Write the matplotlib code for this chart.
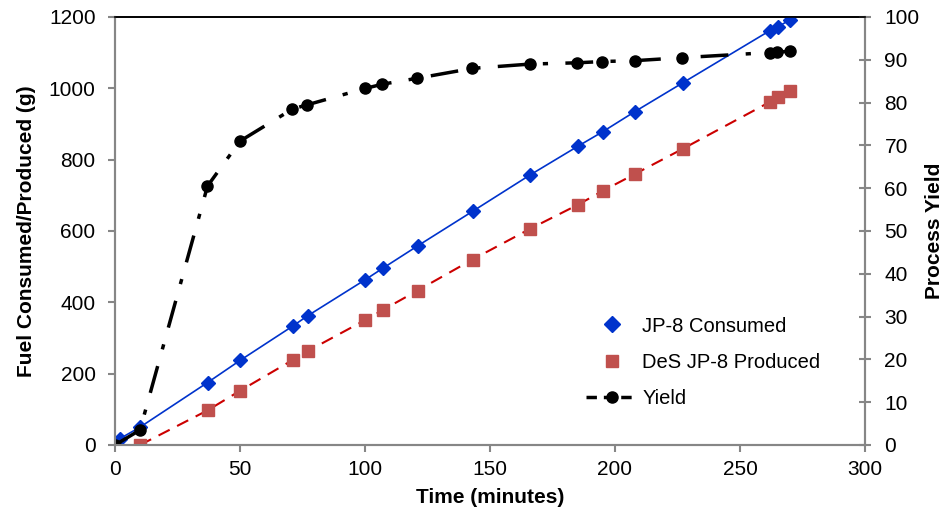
import matplotlib.pyplot as plt
from matplotlib.lines import Line2D

plt.rcParams['font.family'] = ['Liberation Sans', 'DejaVu Sans']

# time (minutes)
t_consumed = [0, 2, 10, 37, 50, 71, 77, 100, 107, 121, 143, 166, 185, 195, 208, 227, 262, 265, 270]
jp8_consumed = [0, 18, 50, 175, 237, 333, 362, 463, 495, 558, 655, 757, 837, 878, 935, 1015, 1162, 1172, 1192]

t_produced = [10, 37, 50, 71, 77, 100, 107, 121, 143, 166, 185, 195, 208, 227, 262, 265, 270]
des_produced = [0, 97, 152, 238, 263, 350, 378, 433, 520, 606, 673, 712, 760, 830, 962, 975, 992]

t_yield = [0, 10, 37, 50, 71, 77, 100, 107, 121, 143, 166, 185, 195, 208, 227, 262, 265, 270]
yield_pct = [0, 3.5, 60.5, 71, 78.5, 79.5, 83.3, 84.3, 85.7, 88, 89, 89.3, 89.6, 89.8, 90.5, 91.7, 91.8, 92]

blue = '#0033cc'
red = '#c0504d'
gray = '#868686'

fig = plt.figure(figsize=(9.49, 5.13), dpi=100)
ax = fig.add_axes([115 / 949, 68 / 513, 750 / 949, 428 / 513])
ax2 = ax.twinx()

# series lines + markers
ax.plot(t_consumed, jp8_consumed, color=blue, lw=1.2, zorder=2)
ax.plot(t_produced, des_produced, color='#cc0000', lw=1.5, dashes=(6, 4), zorder=2)
ax.plot(t_consumed, jp8_consumed, ls='none', marker='D', ms=7, color=blue, zorder=3)
ax.plot(t_produced, des_produced, ls='none', marker='s', ms=8, color=red, zorder=3)

ax2.plot(t_yield, yield_pct, color='black', lw=2.5, dashes=(8, 5, 1.5, 5), marker='o', ms=8)

ax.set_xlim(0, 300)
ax.set_ylim(0, 1200)
ax2.set_ylim(0, 100)
ax.set_xticks(range(0, 301, 50))
ax.set_yticks(range(0, 1201, 200))
ax2.set_yticks(range(0, 101, 10))

for a in (ax, ax2):
    for s in a.spines.values():
        s.set_color(gray)
        s.set_linewidth(1.5)
    a.spines['top'].set_color('black')
    a.spines['top'].set_linewidth(1.2)
ax.tick_params(axis='y', colors=gray, labelcolor='black', labelsize=15, length=5, width=1.5,
               direction='out', pad=9)
ax.tick_params(axis='x', colors=gray, labelcolor='black', labelsize=15, length=5, width=1.5,
               direction='out', pad=6)
ax2.tick_params(axis='y', colors=gray, labelcolor='black', labelsize=15, length=8, width=1.5,
                direction='inout', pad=10)

ax.set_xlabel('Time (minutes)', fontsize=15, fontweight='bold', labelpad=6)
ax.set_ylabel('Fuel Consumed/Produced (g)', fontsize=15, fontweight='bold')
ax.yaxis.set_label_coords(-0.105, 0.5)
ax2.set_ylabel('Process Yield', fontsize=15, fontweight='bold')
ax2.yaxis.set_label_coords(1.08, 0.5)

handles = [
    Line2D([], [], ls='none', marker='D', ms=8, color=blue),
    Line2D([], [], ls='none', marker='s', ms=9, color=red),
    Line2D([], [], color='black', lw=2.5, dashes=(3, 2, 3, 2), marker='o', ms=8),
]
ax2.legend(handles, ['JP-8 Consumed', 'DeS JP-8 Produced', 'Yield'], loc='lower left',
           bbox_to_anchor=(0.628, 0.087), frameon=False, fontsize=14.5, labelspacing=0.85,
           handlelength=2.6, handletextpad=0.2, borderpad=0, borderaxespad=0)

fig.savefig('out.png', dpi=100)
